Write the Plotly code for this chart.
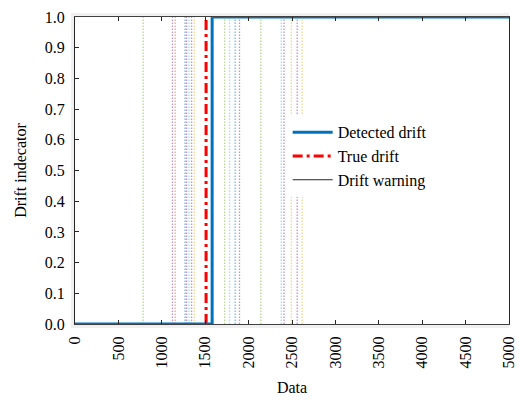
import plotly.graph_objects as go

# ---- data ----
x_range = [0, 5000]
x_ticks = [0, 500, 1000, 1500, 2000, 2500, 3000, 3500, 4000, 4500, 5000]
y_ticks = [0.0, 0.1, 0.2, 0.3, 0.4, 0.5, 0.6, 0.7, 0.8, 0.9, 1.0]
detected_drift_at = 1580
true_drift_at = 1510
warning_positions = [785, 1123, 1154, 1268, 1286, 1313, 1343, 1374,
                     1724, 1781, 1845, 1895, 2141, 2377, 2408, 2492, 2560, 2617]
legend_names = ["Detected drift", "True drift", "Drift warning"]

# ---- styles ----
warn_colors = ["#77AC30", "#7E2F8E", "#D95319", "#0072BD", "#7E2F8E", "#4DBEEE", "#7E2F8E", "#EDB120",
               "#77AC30", "#4DBEEE", "#0072BD", "#7E2F8E", "#77AC30", "#4DBEEE", "#7E2F8E", "#EDB120",
               "#7E2F8E", "#EDB120"]
FONT = "Liberation Serif"
DASHDOT = "10px,4px,3px,4px"

fig = go.Figure()

for xp, c in zip(warning_positions, warn_colors):
    fig.add_trace(go.Scatter(x=[xp, xp], y=[0, 1], mode="lines",
                             line=dict(color=c, width=1.3, dash="1.5px,1.5px"),
                             opacity=0.5, showlegend=False, hoverinfo="skip"))

fig.add_trace(go.Scatter(x=[true_drift_at, true_drift_at], y=[0, 1], mode="lines",
                         line=dict(color="#FF0000", width=3, dash=DASHDOT),
                         showlegend=False))

fig.add_trace(go.Scatter(x=[x_range[0], detected_drift_at, detected_drift_at, x_range[1]],
                         y=[0, 0, 1, 1], mode="lines",
                         line=dict(color="#0072BD", width=3), name=legend_names[0]))
fig.add_trace(go.Scatter(x=[None], y=[None], mode="lines",
                         line=dict(color="#FF0000", width=3, dash=DASHDOT), name=legend_names[1]))
fig.add_trace(go.Scatter(x=[None], y=[None], mode="lines",
                         line=dict(color="#262626", width=1), name=legend_names[2]))

L, R, T, B = 75, 9, 14, 84
W, H = 526, 408
pw, ph = W - L - R, H - T - B

fig.update_layout(
    width=W, height=H,
    margin=dict(l=L, r=R, t=T, b=B, pad=0),
    paper_bgcolor="white", plot_bgcolor="white",
    font=dict(family=FONT, size=16, color="#000000"),
    showlegend=True,
    legend=dict(x=0.49, y=0.68, xanchor="left", yanchor="top",
                bgcolor="white", borderwidth=0,
                font=dict(family=FONT, size=16, color="#000000"),
                tracegroupgap=0, itemwidth=40),
    shapes=[
        dict(type="rect", xref="paper", yref="paper", layer="below",
             x0=-4 / pw, x1=1.0, y0=-4 / ph, y1=1 + 4 / ph,
             fillcolor="#F0F0F0", line=dict(width=0)),
        dict(type="rect", xref="paper", yref="paper", layer="below",
             x0=0, x1=1, y0=0, y1=1,
             fillcolor="white", line=dict(width=0)),
    ],
)

fig.update_xaxes(range=x_range, tickvals=x_ticks, ticktext=[str(t) for t in x_ticks],
                 tickangle=-90, ticks="inside", ticklen=4, tickcolor="#262626",
                 ticklabelstandoff=5,
                 showline=True, linecolor="#404040", linewidth=1, mirror="ticks",
                 showgrid=False, zeroline=False,
                 tickfont=dict(family=FONT, size=16, color="#000000"),
                 title=dict(text="Data", font=dict(family=FONT, size=16), standoff=14))
fig.update_yaxes(range=[0, 1], tickvals=y_ticks, tickformat=".1f",
                 ticks="inside", ticklen=4, tickcolor="#262626",
                 ticklabelstandoff=6,
                 showline=True, linecolor="#262626", linewidth=1, mirror=True,
                 showgrid=False, zeroline=False,
                 tickfont=dict(family=FONT, size=16, color="#000000"),
                 title=dict(text="Drift indecator", font=dict(family=FONT, size=16), standoff=14))

fig.write_html("out.html")
